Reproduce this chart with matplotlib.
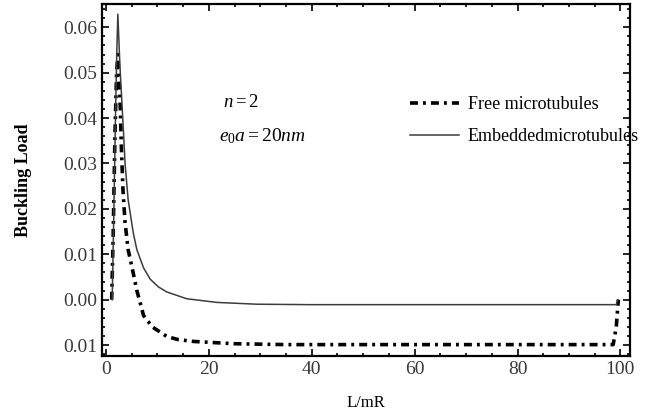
import matplotlib
matplotlib.use("Agg")
import matplotlib.pyplot as plt
from matplotlib.ticker import MultipleLocator, FixedLocator

# L/mR values and buckling load
L_free = [1.1, 1.4, 1.75, 2.05, 2.3, 2.7, 3.0, 3.3, 3.7, 4.3, 5.0, 6.0, 7.3, 9.0,
          11.8, 14.0, 17.0, 24.8, 35.0, 50.0, 70.0, 90.0, 98.6, 99.2, 99.6]
free = [0.0, 0.0147, 0.037, 0.050, 0.054, 0.045, 0.033, 0.024, 0.017, 0.011, 0.0074,
        0.002, -0.0035, -0.006, -0.0081, -0.0088, -0.0092, -0.0097, -0.0099, -0.0099,
        -0.0099, -0.0099, -0.0099, -0.006, 0.0]

L_emb = [1.2, 1.5, 1.8, 2.1, 2.3, 2.7, 3.05, 3.4, 3.7, 4.3, 5.3, 6.0, 7.3, 8.6,
         10.2, 11.8, 15.7, 21.5, 29.3, 40.0, 60.0, 80.0, 99.2, 99.5]
embedded = [0.0, 0.018, 0.038, 0.055, 0.0629, 0.0515, 0.0442, 0.0368, 0.030, 0.022,
            0.0147, 0.011, 0.0070, 0.0045, 0.0028, 0.0017, 0.0002, -0.0006, -0.0010,
            -0.0011, -0.0011, -0.0011, -0.0011, 0.0]

yticks = [-0.01, 0.0, 0.01, 0.02, 0.03, 0.04, 0.05, 0.06]
ytick_labels = ["0.01", "0.00", "0.01", "0.02", "0.03", "0.04", "0.05", "0.06"]
xticks = [0, 20, 40, 60, 80, 100]

plt.rcParams["font.family"] = ["Liberation Serif", "DejaVu Serif"]
plt.rcParams["mathtext.fontset"] = "custom"
plt.rcParams["mathtext.rm"] = "Liberation Serif"
plt.rcParams["mathtext.it"] = "Liberation Serif:italic"

fig = plt.figure(figsize=(6.45, 4.18), dpi=100)
ax = fig.add_axes([0.158, 0.148, 0.819, 0.842])

ax.plot(L_free, free, color="black", lw=2.6,
        linestyle=(0, (2.2, 1.4, 0.8, 1.4)), label="Free microtubules")
ax.plot(L_emb, embedded, color="#3c3c3c", lw=1.1, label="Embeddedmicrotubules")

ax.set_xlim(-0.8, 101.9)
ax.set_ylim(-0.01244, 0.0651)

ax.xaxis.set_major_locator(FixedLocator(xticks))
ax.xaxis.set_minor_locator(MultipleLocator(5))
ax.yaxis.set_major_locator(FixedLocator(yticks))
ax.set_yticklabels(ytick_labels)
ax.yaxis.set_minor_locator(MultipleLocator(0.002))

ax.tick_params(which="both", direction="in", top=True, right=True,
               labelsize=14, labelcolor="#3a3a3a", width=1.2)
ax.tick_params(which="major", length=5)
ax.tick_params(which="minor", length=2.5)
for s in ax.spines.values():
    s.set_linewidth(1.6)

ax.set_xlabel("L/mR", fontsize=12, labelpad=12)
ax.set_ylabel("Buckling Load", fontsize=13, fontweight="bold", labelpad=22)

ax.text(0.229, 0.707, r"$n = 2$", transform=ax.transAxes, fontsize=13.5)
ax.text(0.222, 0.61, r"$e_0a = 20nm$", transform=ax.transAxes, fontsize=14)

leg = ax.legend(loc="upper left", bbox_to_anchor=(0.57, 0.76), frameon=False,
                fontsize=13, handlelength=2.7, handletextpad=0.5, labelspacing=0.85,
                borderaxespad=0)

fig.savefig("out.png", dpi=100)
